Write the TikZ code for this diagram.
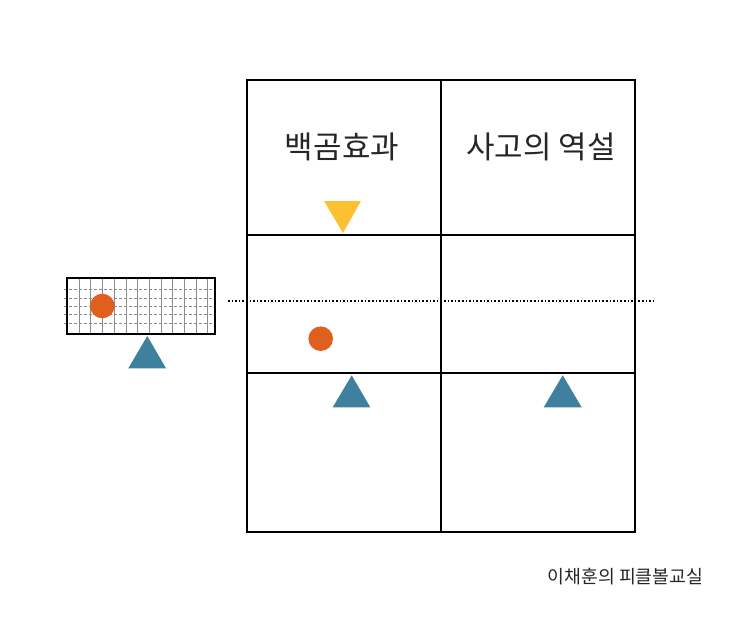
\documentclass[tikz,border=0pt]{standalone}
\usepackage{fontspec}
\newfontfamily\kr{Noto Sans CJK KR}
\usetikzlibrary{positioning}
\definecolor{ballorange}{HTML}{E05F1C}
\definecolor{padblue}{HTML}{3F809F}
\definecolor{markyellow}{HTML}{FBC132}
\begin{document}
\begin{tikzpicture}[x=1pt, y=-1pt,
	frame/.style={draw=black, line width=1.8pt},
	ball/.style={circle, fill=ballorange, inner sep=0pt, minimum size=24.6pt},
	title/.style={font=\kr\fontsize{31}{34}\selectfont, text=black!85},
	sign/.style={font=\kr\fontsize{18.3}{21}\selectfont, text=black!85},
	mesh/.style={black!45, line width=0.6pt}
	]
\useasboundingbox (0,0) rectangle (743,632);
% table
\draw[frame] (247,80) rectangle (635,532);
\draw[frame] (441,80) -- (441,532);
\draw[frame] (247,235) -- (635,235);
\draw[frame] (247,373) -- (635,373);
\node[title] (white) at (342,147) {백곰효과};
\node[title] (paradox) at (541,147) {사고의 역설};
% small court
\foreach \x in {79,90.7,...,210} \draw[mesh] (\x,278) -- (\x,334);
\foreach \y in {289.5,298,306.3,314.6,323} \draw[mesh, densely dashed] (64,\y) -- (215,\y);
\draw[frame] (67.3,278.3) rectangle (215,334);
\node[ball] (b1) at (102.3,306) {};
\fill[padblue] (128.3,368.3) -- (147.3,336) -- (166,368.3) -- cycle;
% net line
\draw[line width=1.6pt, dotted] (228,301) -- (653,301);
% marks
\fill[markyellow] (324,201) -- (361,201) -- (343,233) -- cycle;
\node[ball] (b2) at (320.7,338.7) {};
\fill[padblue] (332.7,407.3) -- (351.7,375.3) -- (370.3,407.3) -- cycle;
\fill[padblue] (543.7,407.3) -- (562.7,375.3) -- (581.7,407.3) -- cycle;
\node[sign] (credit) at (625.5,577) {이채훈의 피클볼교실};
\end{tikzpicture}
\end{document}
